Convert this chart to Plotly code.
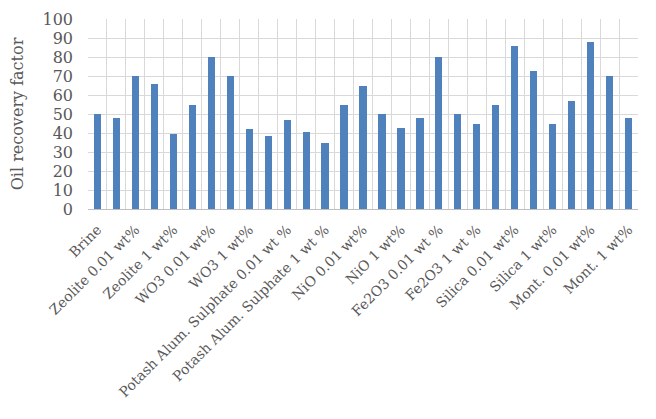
import plotly.graph_objects as go

# Oil recovery factor per fluid (29 bars, every other one labelled)
recovery = [50, 48, 70, 66, 39.5, 55, 80, 70, 42, 38.5, 47, 40.5, 35, 55, 65,
            50, 42.5, 48, 80, 50, 45, 55, 86, 72.5, 45, 57, 88, 70, 48]

shown_labels = ['Brine', 'Zeolite 0.01 wt%', 'Zeolite 1 wt%', 'WO3 0.01 wt%',
                'WO3 1 wt%', 'Potash Alum. Sulphate 0.01 wt %',
                'Potash Alum. Sulphate 1 wt %', 'NiO 0.01 wt%', 'NiO 1 wt%',
                'Fe2O3 0.01 wt %', 'Fe2O3 1 wt %', 'Silica 0.01 wt%',
                'Silica 1 wt%', 'Mont. 0.01 wt%', 'Mont. 1 wt%']

y_ticks = list(range(0, 101, 10))

x_pos = list(range(len(recovery)))
label_pos = x_pos[::2]

font_family = 'DejaVu Serif'
text_grey = '#595959'
grid_grey = '#d9d9d9'

fig = go.Figure()
fig.add_trace(go.Bar(
    x=x_pos,
    y=recovery,
    width=0.38,
    marker_color='#4f81bd',
    marker_line_width=0,
))

# vertical grid between the bars
fig.update_xaxes(
    range=[-0.5, len(recovery) - 0.5],
    tickvals=label_pos,
    ticktext=shown_labels,
    tickangle=-45,
    tickfont=dict(family=font_family, size=14, color=text_grey),
    ticklabelstandoff=6,
    automargin=False,
    showgrid=False,
    showline=True,
    linecolor='#bfbfbf',
    linewidth=1,
    ticks='',
    minor=dict(tickvals=[p - 0.5 for p in x_pos] + [len(recovery) - 0.5],
               showgrid=True, gridcolor=grid_grey, gridwidth=1),
)
fig.update_yaxes(
    range=[0, 100],
    tickvals=y_ticks,
    tickfont=dict(family=font_family, size=16, color=text_grey),
    ticklabelstandoff=14,
    title=dict(text='Oil recovery factor',
               font=dict(family=font_family, size=16, color=text_grey),
               standoff=14),
    automargin=False,
    showgrid=True,
    gridcolor=grid_grey,
    gridwidth=1,
    zeroline=False,
    ticks='',
)

fig.update_layout(
    width=656,
    height=419,
    margin=dict(l=88, r=18, t=19, b=210),
    plot_bgcolor='white',
    paper_bgcolor='white',
    showlegend=False,
    bargap=0,
)

# drop the default page margin so the figure sits at the window corner
fig.write_html("out.html", config={'displayModeBar': False},
               post_script="document.body.style.margin='0';")
